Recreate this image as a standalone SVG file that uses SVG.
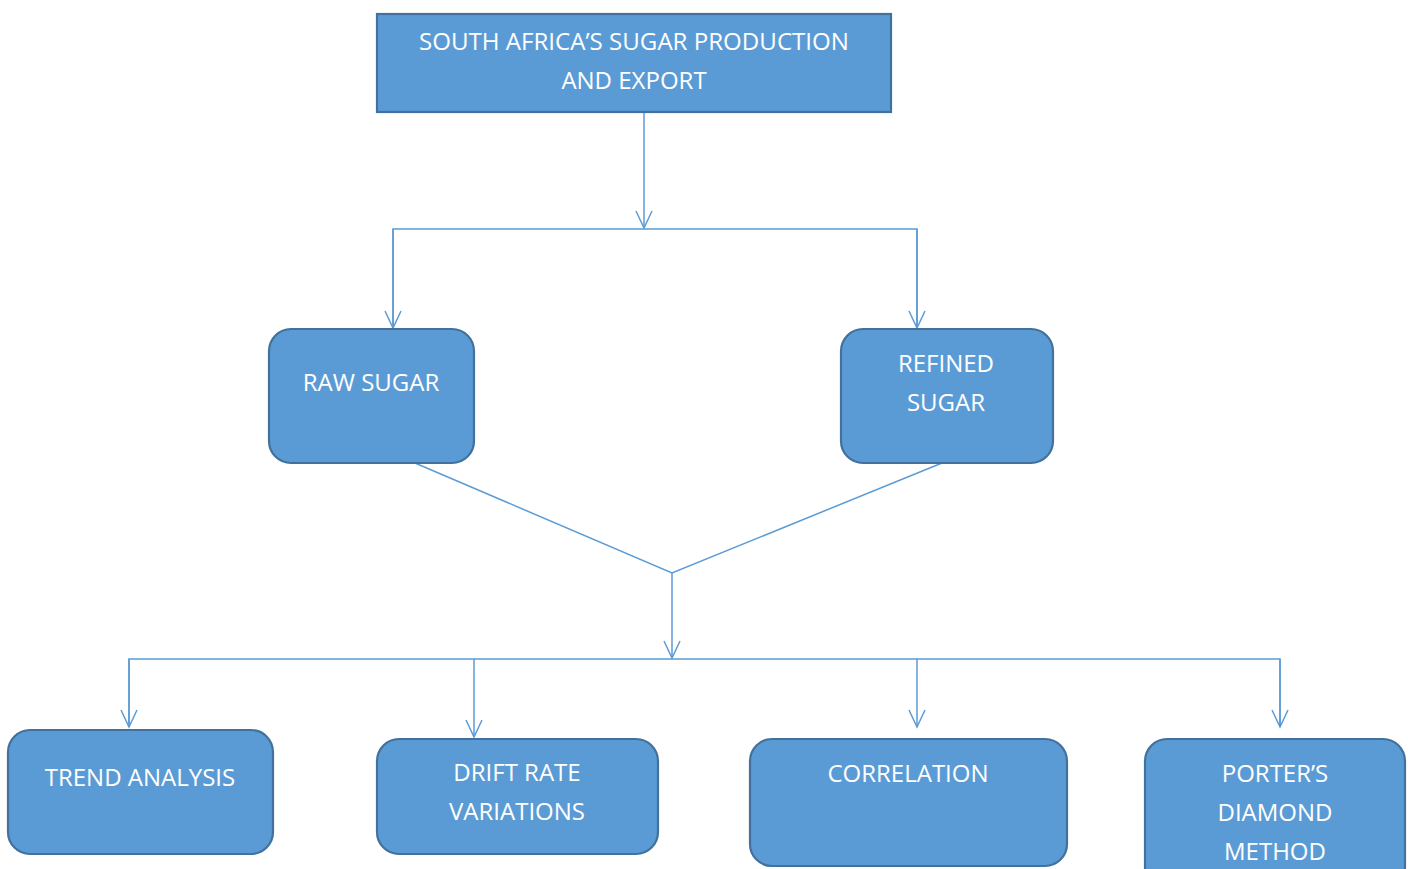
<svg xmlns="http://www.w3.org/2000/svg" width="1408" height="869" viewBox="0 0 1408 869">
<style>
.box{fill:#5B9BD5;stroke:#41719C;stroke-width:2.2}
.t{fill:#fff;font-family:"Open Sans","Liberation Sans",sans-serif;font-size:24px;text-anchor:middle}
.c{fill:none;stroke:#5B9BD5;stroke-width:1.5}
</style>
<defs>
<marker id="a" markerUnits="userSpaceOnUse" orient="auto" refX="0" refY="0" markerWidth="20" markerHeight="20" viewBox="-18 -10 20 20" overflow="visible">
<path d="M-17,-8 L0,0 L-17,8" fill="none" stroke="#5B9BD5" stroke-width="1.5"/>
</marker>
</defs>
<rect width="1408" height="869" fill="#fff"/>
<g id="connectors">
<line class="c" x1="644" y1="113" x2="644" y2="228" marker-end="url(#a)"/>
<polyline class="c" points="393,328 393,229 917,229 917,328"/>
<line class="c" x1="393" y1="229" x2="393" y2="328" marker-end="url(#a)"/>
<line class="c" x1="917" y1="229" x2="917" y2="328" marker-end="url(#a)"/>
<polyline class="c" points="415,463 672,573 942,463"/>
<line class="c" x1="672" y1="573" x2="672" y2="658" marker-end="url(#a)"/>
<polyline class="c" points="129,727 129,659 1280,659 1280,727"/>
<line class="c" x1="129" y1="659" x2="129" y2="727" marker-end="url(#a)"/>
<line class="c" x1="474" y1="659" x2="474" y2="737" marker-end="url(#a)"/>
<line class="c" x1="917" y1="659" x2="917" y2="727" marker-end="url(#a)"/>
<line class="c" x1="1280" y1="659" x2="1280" y2="727" marker-end="url(#a)"/>
</g>
<g id="top">
<rect class="box" x="377" y="14" width="514" height="98"/>
<text class="t" x="634" y="50" textLength="430" lengthAdjust="spacingAndGlyphs">SOUTH AFRICA’S SUGAR PRODUCTION</text>
<text class="t" x="634" y="89">AND EXPORT</text>
</g>
<g id="raw">
<rect class="box" x="269" y="329" width="205" height="134" rx="22"/>
<text class="t" x="371" y="391">RAW SUGAR</text>
</g>
<g id="refined">
<rect class="box" x="841" y="329" width="212" height="134" rx="22"/>
<text class="t" x="946" y="372">REFINED</text>
<text class="t" x="946" y="411">SUGAR</text>
</g>
<g id="trend">
<rect class="box" x="8" y="730" width="265" height="124" rx="22"/>
<text class="t" x="140" y="786">TREND ANALYSIS</text>
</g>
<g id="drift">
<rect class="box" x="377" y="739" width="281" height="115" rx="22"/>
<text class="t" x="517" y="781">DRIFT RATE</text>
<text class="t" x="517" y="820">VARIATIONS</text>
</g>
<g id="correlation">
<rect class="box" x="750" y="739" width="317" height="127" rx="22"/>
<text class="t" x="908" y="782">CORRELATION</text>
</g>
<g id="porter">
<rect class="box" x="1145" y="739" width="260" height="150" rx="22"/>
<text class="t" x="1275" y="782">PORTER’S</text>
<text class="t" x="1275" y="821">DIAMOND</text>
<text class="t" x="1275" y="860">METHOD</text>
</g>
</svg>
